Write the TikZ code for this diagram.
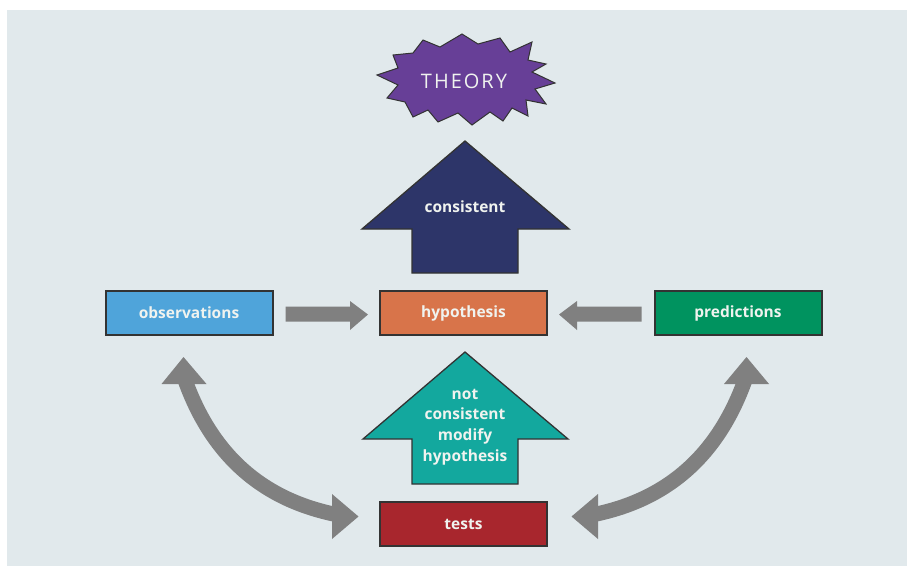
\documentclass[tikz,border=0pt]{standalone}
\usepackage{fontspec}
\setmainfont{Open Sans}
\newfontfamily\theoryfont[LetterSpace=10]{Open Sans}
\usetikzlibrary{calc}

\definecolor{panel}{HTML}{E1E9EC}
\definecolor{edge}{HTML}{333333}
\definecolor{labeltext}{HTML}{F0F3EF}
\definecolor{obscol}{HTML}{4FA4DA}
\definecolor{hypcol}{HTML}{D8744A}
\definecolor{predcol}{HTML}{00935F}
\definecolor{testcol}{HTML}{A8262D}
\definecolor{navycol}{HTML}{2D3569}
\definecolor{tealcol}{HTML}{13A89E}
\definecolor{theorycol}{HTML}{673F97}
\definecolor{flowgray}{HTML}{808080}

\begin{document}
\begin{tikzpicture}[x=1pt,y=-1pt,
  stepbox/.style={draw=edge, line width=2pt, minimum width=167pt, minimum height=44pt,
    inner sep=0pt, text=labeltext, font=\fontsize{15.5}{18}\selectfont\bfseries},
  blockarrow/.style={draw=edge, line width=1.3pt, line join=miter},
  blocklabel/.style={text=labeltext, align=center, inner sep=0pt,
    font=\fontsize{15.5}{20.7}\selectfont\bfseries},
  flowhead/.style={fill=flowgray},
  flowshaft/.style={draw=flowgray, line width=15pt}
]
\useasboundingbox (0,0) rectangle (907,566);
\fill[white] (0,0) rectangle (907,566);
\fill[panel] (7,10) rectangle (907,566);

% --- theory starburst ---
\filldraw[fill=theorycol, draw=edge, line width=1pt, line join=miter]
  (377,75) -- (398,68) -- (393,55) -- (413,53) -- (423,40) -- (440,47)
  -- (462,34) -- (478,44) -- (500,38) -- (510,52) -- (532,42) -- (528,60)
  -- (546,64) -- (532,72) -- (555,83) -- (535,89) -- (546,104) -- (526,100)
  -- (528,116) -- (512,108) -- (503,121) -- (490,112) -- (472,125) -- (458,113)
  -- (438,122) -- (428,110) -- (413,117) -- (405,102) -- (387,98) -- (398,85) -- cycle;
\node[text=labeltext, font=\fontsize{20}{22}\selectfont\theoryfont, inner sep=0pt]
  (theory) at (464,81) {THEORY};

% --- block arrows ---
\filldraw[blockarrow, fill=navycol]
  (465,141) -- (569,229) -- (518,229) -- (518,273) -- (412,273) -- (412,229)
  -- (362,229) -- cycle;
\node[blocklabel] (cons) at (465,207) {consistent};

\filldraw[blockarrow, fill=tealcol]
  (465,352) -- (568,439) -- (518,439) -- (518,484) -- (412,484) -- (412,439)
  -- (363,439) -- cycle;
\node[blocklabel] (notcons) at (465,427) {not\\consistent\\modify\\hypothesis};

% --- boxes ---
\node[stepbox, fill=obscol]  (obs)  at (189,313)   {observations};
\node[stepbox, fill=hypcol]  (hyp)  at (463.5,313) {hypothesis};
\node[stepbox, fill=predcol] (pred) at (738,313)   {predictions};
\node[stepbox, fill=testcol] (tests) at (463.5,524) {tests};

% --- straight arrows into the hypothesis ---
\fill[flowhead]
  ($(obs.east)+(12,-6.5)$) -- ($(hyp.west)+(-29,-6.5)$) -- ($(hyp.west)+(-29,-12)$)
  -- ($(hyp.west)+(-11,1.5)$) -- ($(hyp.west)+(-29,17)$) -- ($(hyp.west)+(-29,8.5)$)
  -- ($(obs.east)+(12,8.5)$) -- cycle;
\fill[flowhead]
  ($(pred.west)+(-12,-6.5)$) -- ($(hyp.east)+(29,-6.5)$) -- ($(hyp.east)+(29,-12)$)
  -- ($(hyp.east)+(11,1.5)$) -- ($(hyp.east)+(29,17)$) -- ($(hyp.east)+(29,8.5)$)
  -- ($(pred.west)+(-12,8.5)$) -- cycle;

% --- curved two-way arrows ---
\coordinate (lu) at (185,380);
\coordinate (ld) at (336,514.5);
\coordinate (ru) at (745,380);
\coordinate (rd) at (594,514.5);
\draw[flowshaft] (lu) .. controls (213,458) and (265,500) .. (ld);
\draw[flowshaft] (ru) .. controls (717,458) and (665,500) .. (rd);
\fill[flowhead] (183.5,357) -- (206.5,384) -- (161.5,384) -- cycle;
\fill[flowhead] (358.5,516.5) -- (332,539) -- (332,494) -- cycle;
\fill[flowhead] (746.5,357) -- (769,384) -- (724,384) -- cycle;
\fill[flowhead] (571.5,516.5) -- (598,539) -- (598,494) -- cycle;
\end{tikzpicture}
\end{document}
